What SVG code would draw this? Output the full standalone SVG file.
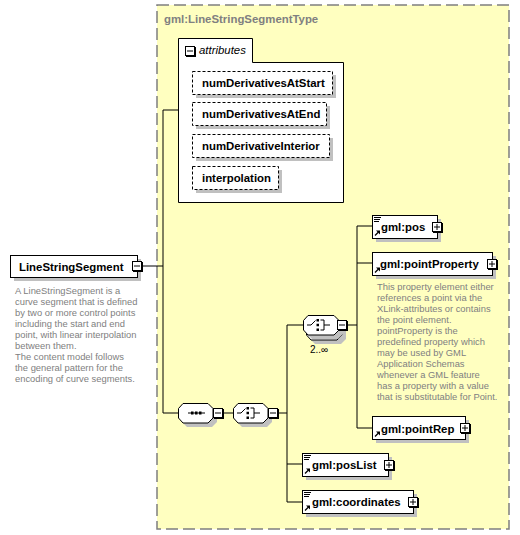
<svg xmlns="http://www.w3.org/2000/svg" width="520" height="535" viewBox="0 0 520 535">
<style>
.el{fill:#fff;stroke:#000;stroke-width:1}
.sh{fill:#c0c0c0;stroke:none}
.at{fill:#fff;stroke:#000;stroke-width:1;stroke-dasharray:3,2}
.nm{font-family:"Liberation Sans",Arial,sans-serif;font-weight:bold;font-size:11.4px;fill:#000}
.ds{font-family:"Liberation Sans",Arial,sans-serif;font-size:9.4px;fill:#808080}
.cn{stroke:#000;stroke-width:1;fill:none}
</style>
<defs>
<g id="minus"><rect x="1" y="1" width="10" height="10" fill="#000"/><rect x="0.5" y="0.5" width="9" height="9" fill="#fff" stroke="#000"/><line x1="2" y1="5" x2="8" y2="5" stroke="#000"/></g>
<g id="plus"><rect x="1" y="1" width="10" height="10" fill="#000"/><rect x="0.5" y="0.5" width="9" height="9" fill="#fff" stroke="#000"/><line x1="2" y1="5" x2="8" y2="5" stroke="#000"/><line x1="5" y1="2" x2="5" y2="8" stroke="#000"/></g>
<g id="lines" stroke="#000" stroke-width="1"><line x1="2" y1="2.5" x2="9" y2="2.5"/><line x1="2" y1="4.5" x2="8" y2="4.5"/><line x1="2" y1="6.5" x2="7" y2="6.5"/></g>
<g id="ref"><line x1="3" y1="-2.5" x2="6.5" y2="-6" stroke="#000" stroke-width="1.3"/><polygon points="4,-7.5 8,-7.5 8,-3.5" fill="#000"/></g>
<g id="choiceSym" fill="#000" stroke="#000"><line x1="4" y1="0" x2="8" y2="0"/><line x1="8" y1="0" x2="12.5" y2="-4.5"/><rect x="13.5" y="-6" width="2.5" height="2.5" stroke="none"/><rect x="13.5" y="-1.25" width="2.5" height="2.5" stroke="none"/><rect x="13.5" y="3.5" width="2.5" height="2.5" stroke="none"/><path d="M17.5,-5 H21 V5 H17.5 M21,0 H27" fill="none"/></g>
</defs>

<rect x="157" y="5" width="352" height="524" fill="#ffffc0" stroke="#7f7f7f" stroke-width="1.5" stroke-dasharray="12,5"/>
<text x="164" y="23" class="nm" style="fill:#808080">gml:LineStringSegmentType</text>

<g id="connectors" class="cn">
<line x1="143" y1="266" x2="163" y2="266"/>
<line x1="163" y1="110" x2="163" y2="413"/>
<line x1="163" y1="110" x2="178" y2="110"/>
<line x1="163" y1="413" x2="178" y2="413"/>
<line x1="223" y1="413" x2="233" y2="413"/>
<line x1="278" y1="413" x2="287" y2="413"/>
<line x1="287" y1="325" x2="287" y2="502"/>
<line x1="287" y1="325" x2="303" y2="325"/>
<line x1="287" y1="464" x2="302" y2="464"/>
<line x1="287" y1="502" x2="302" y2="502"/>
<line x1="347" y1="325" x2="357" y2="325"/>
<line x1="357" y1="226" x2="357" y2="428"/>
<line x1="357" y1="226" x2="372" y2="226"/>
<line x1="357" y1="263" x2="372" y2="263"/>
<line x1="357" y1="428" x2="372" y2="428"/>
</g>

<g id="LineStringSegment">
<rect x="14" y="259" width="127" height="22" class="sh"/>
<rect x="10.5" y="255.5" width="127" height="22" class="el"/>
<text x="19" y="271" class="nm">LineStringSegment</text>
<use href="#minus" x="132" y="261"/>
<text class="ds"><tspan x="15" y="294">A LineStringSegment is a</tspan><tspan x="15" y="305">curve segment that is defined</tspan><tspan x="15" y="316">by two or more control points</tspan><tspan x="15" y="327">including the start and end</tspan><tspan x="15" y="338">point, with linear interpolation</tspan><tspan x="15" y="349">between them.</tspan><tspan x="15" y="360">The content model follows</tspan><tspan x="15" y="371">the general pattern for the</tspan><tspan x="15" y="382">encoding of curve segments.</tspan></text>
</g>

<g id="attributes">
<polygon points="178.5,38.5 252.5,38.5 252.5,62.5 343.5,62.5 343.5,202.5 178.5,202.5" class="el"/>
<use href="#minus" x="185" y="46"/>
<text x="199" y="54" font-family="Liberation Sans, Arial, sans-serif" font-style="italic" font-size="11.4" fill="#000">attributes</text>
</g>
<g id="numDerivativesAtStart">
<rect x="196" y="75" width="140" height="23" class="sh"/>
<rect x="192.5" y="71.5" width="140" height="23" class="at"/>
<text x="202" y="87" class="nm">numDerivativesAtStart</text>
</g>
<g id="numDerivativesAtEnd">
<rect x="196" y="106" width="134" height="23" class="sh"/>
<rect x="192.5" y="102.5" width="134" height="23" class="at"/>
<text x="202" y="118" class="nm">numDerivativesAtEnd</text>
</g>
<g id="numDerivativeInterior">
<rect x="196" y="138" width="137" height="23" class="sh"/>
<rect x="192.5" y="134.5" width="137" height="23" class="at"/>
<text x="202" y="150" class="nm">numDerivativeInterior</text>
</g>
<g id="interpolation">
<rect x="196" y="170" width="86" height="23" class="sh"/>
<rect x="192.5" y="166.5" width="86" height="23" class="at"/>
<text x="202" y="182" class="nm">interpolation</text>
</g>

<g id="sequence">
<polygon points="187,407 212,407 217,412 217,422 212,427 187,427 182,422 182,412" class="sh"/>
<polygon points="183,403.5 208,403.5 213,408.5 213,418 208,423 183,423 178.5,418 178.5,408.5" class="el"/>
<line x1="188" y1="413" x2="205" y2="413" stroke="#000"/>
<rect x="191" y="411.5" width="2.5" height="3" fill="#000"/>
<rect x="195" y="411.5" width="2.5" height="3" fill="#000"/>
<rect x="199" y="411.5" width="2.5" height="3" fill="#000"/>
<use href="#minus" x="213" y="408"/>
</g>

<g id="choice1">
<polygon points="242,407 267,407 272,412 272,422 267,427 242,427 237,422 237,412" class="sh"/>
<polygon points="238,403.5 263,403.5 268,408.5 268,418 263,423 238,423 233.5,418 233.5,408.5" class="el"/>
<use href="#choiceSym" x="233" y="413"/>
<use href="#minus" x="268" y="408"/>
</g>

<g id="choice2">
<polygon points="315,324 341,324 346,329 346,339 341,344 315,344 310,339 310,329" class="sh"/>
<polygon points="311,320.5 337,320.5 342,325.5 342,335 337,340 311,340 306.5,335 306.5,325.5" class="el"/>
<polygon points="312,319 338,319 343,324 343,334 338,339 312,339 307,334 307,324" class="sh"/>
<polygon points="308,315.5 334,315.5 339,320.5 339,330 334,335 308,335 303.5,330 303.5,320.5" class="el"/>
<use href="#choiceSym" x="303" y="325"/>
<use href="#minus" x="337" y="320"/>
<text x="310" y="353" font-family="Liberation Sans, Arial, sans-serif" font-size="10" fill="#000">2..∞</text>
</g>

<g id="gml_pos">
<rect x="376" y="219" width="65" height="23" class="sh"/>
<rect x="372.5" y="215.5" width="65" height="23" class="el"/>
<use href="#lines" x="372" y="215"/>
<use href="#ref" x="372" y="238"/>
<text x="381" y="231" class="nm">gml:pos</text>
<use href="#plus" x="432" y="222"/>
</g>

<g id="gml_pointProperty">
<rect x="376" y="256" width="120" height="23" class="sh"/>
<rect x="372.5" y="252.5" width="120" height="23" class="el"/>
<use href="#ref" x="372" y="275"/>
<text x="380" y="268" class="nm">gml:pointProperty</text>
<use href="#plus" x="487" y="259"/>
<text class="ds"><tspan x="377" y="290">This property element either</tspan><tspan x="377" y="301">references a point via the</tspan><tspan x="377" y="312">XLink-attributes or contains</tspan><tspan x="377" y="323">the point element.</tspan><tspan x="377" y="334">pointProperty is the</tspan><tspan x="377" y="345">predefined property which</tspan><tspan x="377" y="356">may be used by GML</tspan><tspan x="377" y="367">Application Schemas</tspan><tspan x="377" y="378">whenever a GML feature</tspan><tspan x="377" y="389">has a property with a value</tspan><tspan x="377" y="400">that is substitutable for Point.</tspan></text>
</g>

<g id="gml_pointRep">
<rect x="376" y="420" width="93" height="23" class="sh"/>
<rect x="372.5" y="416.5" width="93" height="23" class="el"/>
<use href="#ref" x="372" y="439"/>
<text x="381" y="433" class="nm">gml:pointRep</text>
<use href="#plus" x="460" y="423"/>
</g>

<g id="gml_posList">
<rect x="306" y="457" width="86" height="23" class="sh"/>
<rect x="302.5" y="453.5" width="86" height="23" class="el"/>
<use href="#lines" x="302" y="453"/>
<use href="#ref" x="302" y="476"/>
<text x="312" y="469" class="nm">gml:posList</text>
<use href="#plus" x="384" y="460"/>
</g>

<g id="gml_coordinates">
<rect x="306" y="494" width="111" height="23" class="sh"/>
<rect x="302.5" y="490.5" width="111" height="23" class="el"/>
<use href="#lines" x="302" y="490"/>
<use href="#ref" x="302" y="513"/>
<text x="312" y="506" class="nm">gml:coordinates</text>
<use href="#plus" x="408" y="497"/>
</g>
</svg>
